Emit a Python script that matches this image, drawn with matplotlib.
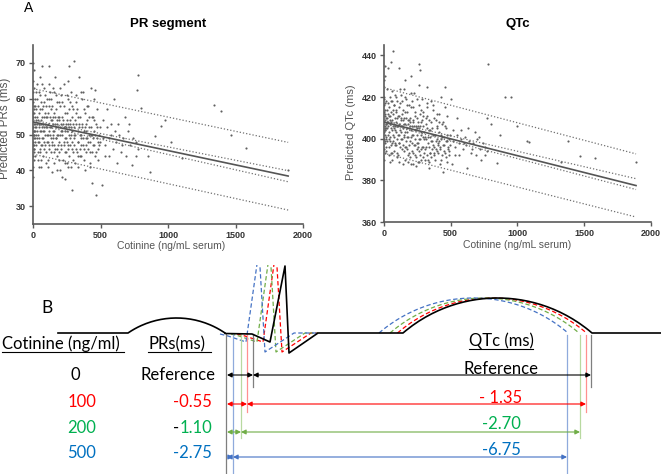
import numpy as np
import matplotlib
matplotlib.use('Agg')
import matplotlib.pyplot as plt
from matplotlib.patches import Rectangle

# ---------------- Panel A data ----------------
pr_points = [
    (2,38),(3,41),(1,44),(4,46),(2,48),(5,50),(1,52),(3,54),(2,56),(4,58),(1,60),(3,62),(2,65),(5,68),
    (8,47),(10,51),(12,55),(7,57),(15,49),(18,53),(9,43),(14,60),(6,63),(11,45),(16,58),(2,70),
    (25,50),(30,55),(35,48),(40,58),(45,52),(50,46),(55,61),(60,54),(65,49),(70,57),(75,44),(80,52),
    (85,63),(90,50),(95,55),(28,60),(38,45),(48,56),(58,51),(68,47),(78,59),(88,53),(98,42),(33,53),
    (43,49),(53,57),(63,64),(73,51),(83,46),(93,58),(22,47),(42,62),(62,43),(82,55),(70,69),(55,66),
    (30,64),(90,61),(45,41),(100,48),
    (105,52),(110,56),(115,47),(120,60),(125,50),(130,54),(135,45),(140,58),(145,51),(150,49),(155,62),
    (160,53),(165,46),(170,57),(175,50),(180,44),(185,55),(190,59),(195,48),(108,43),(118,64),(128,52),
    (138,48),(148,55),(158,42),(168,61),(178,53),(188,47),(198,52),(112,50),(132,57),(152,45),(172,49),
    (192,54),(120,69),(140,39.5),(160,66),(180,40),(200,58),(126,62),
    (205,51),(210,47),(215,55),(220,43),(225,53),(230,58),(235,49),(240,51),(245,45),(250,56),(255,48),
    (260,60),(265,52),(270,44),(275,54),(280,50),(285,62),(290,46),(295,53),(300,49),(208,61),(218,38),
    (228,64),(238,42),(248,52),(258,46),(268,57),(278,41),(288,55),(298,43),(212,50),(232,47),(252,54),
    (272,49),(292,58),(270,69),(300,70.5),(290,34.5),(240,37.5),(262,65),
    (305,50),(312,54),(318,46),(325,57),(330,48),(338,52),(345,44),(350,55),(358,49),(365,60),(372,47),
    (380,51),(388,56),(395,45),(310,42),(322,61),(335,41),(348,50),(360,53),(375,43),(390,49),(400,54),
    (340,66),(385,40),(355,62),(398,58),
    (405,48),(412,52),(420,45),(428,50),(435,55),(442,47),(450,51),(458,44),(465,53),(472,49),(480,46),
    (488,50),(495,52),(410,58),(425,42),(440,36.5),(455,60),(470,33),(485,43),(498,48),(430,63),(445,55),
    (475,57),(460,62.5),
    (510,36),(520,49),(530,47),(545,52),(560,44),(575,50),(590,46),(600,60),(615,48),(630,53),(650,45),
    (670,49),(690,44),(700,51),(720,47),(740,49),(760,48),(775,46),(780,66.5),(770,62.5),(800,57.5),
    (550,57),(620,42),(680,55),(730,41.5),(640,50),(760,44),(710,53),
    (870,39.5),(900,49.5),(950,52.5),(1020,48),(1340,58.2),(1390,56.5),(1470,49.8),(1580,46.3),
    (1890,40),(1100,43.5),(850,44),(980,54),
    (3,47),(6,49),(4,51),(7,53),(2,55),(9,50),(5,46),(12,52),(8,56),(3,59),(13,48),(17,51),(20,54),
    (24,52),(27,49),(32,51),(36,54),(39,50),(44,53),(47,48),(52,51),(56,53),(59,47),(64,52),(67,55),
    (72,49),(76,53),(79,48),(84,51),(87,56),(92,47),(96,52),(102,50),(106,55),(109,48),(114,53),
    (117,51),(122,46),(127,55),(131,49),(134,52),(139,47),(143,54),(147,50),(151,53),(156,47),(159,51),
    (163,55),(167,49),(171,52),(176,46),(179,54),(183,50),(187,52),(191,45),(196,55),(202,50),(207,53),
    (211,46),(216,51),(221,54),(226,48),(231,52),(236,45),(242,53),(247,49),(251,51),(256,53),(261,47),
    (266,50),(271,53),(276,47),(281,52),(286,48),(291,51),(296,45),(302,52),(307,47),(313,50),(319,53),
    (324,45),(331,51),(336,48),(342,53),(347,46),(353,50),(359,47),(366,52),(371,49),(377,46),(383,52),
    (389,47),(394,51),(402,49),(408,46),(415,50),(422,48),(431,52),(438,45),(447,49),(453,47),(462,50),
    (468,45),(478,48),(490,47),(15,44),(25,57),(35,43),(55,45),(75,58),(95,45),(115,58),(135,60),
    (155,56),(175,59),(195,43),(215,59),(235,56),(255,42),(275,59),(295,57),(315,56),(335,55),(355,44),
    (375,57),(395,53),(415,55),(435,50),(455,54),(475,52),(20,62),(60,59),(100,60),(150,63),(200,63),
    (250,61),(320,59),(370,62),(60,41),(110,41),(200,40),(260,41),(330,44),(420,41),(520,54),(560,49),
    (610,51),(660,47),(530,44),(580,53),
]
qtc_points = [
    (2,390),(3,395),(1,400),(4,404),(2,408),(5,412),(1,416),(3,420),(2,425),(4,430),(6,435),(8,398),
    (10,405),(12,410),(7,414),(15,401),(18,407),(9,393),(14,418),(11,402),(16,396),(2,428),
    (25,405),(30,412),(35,400),(40,415),(45,407),(50,397),(55,418),(60,409),(65,402),(70,414),(75,394),
    (80,406),(85,421),(90,403),(95,410),(28,417),(38,396),(48,411),(58,404),(68,399),(78,416),(88,408),
    (98,391),(33,408),(43,401),(53,413),(63,423),(73,405),(83,397),(93,414),(22,399),(42,420),(62,393),
    (82,410),(65,442),(50,437),(30,434),(90,420),(45,389),(100,400),
    (105,406),(110,411),(115,398),(120,417),(125,403),(130,409),(135,395),(140,414),(145,405),(150,401),
    (155,420),(160,407),(165,396),(170,413),(175,403),(180,392),(185,409),(190,416),(195,399),(108,392),
    (118,424),(128,406),(138,400),(148,410),(158,390),(168,419),(178,407),(188,397),(198,406),(112,402),
    (132,412),(152,394),(172,401),(192,408),(115,434),(140,388),(160,428),(180,389),(200,415),(126,421),
    (205,404),(210,398),(215,409),(220,393),(225,406),(230,413),(235,400),(240,404),(245,395),(250,410),
    (255,398),(260,416),(265,405),(270,392),(275,408),(280,402),(285,419),(290,396),(295,406),(300,400),
    (208,418),(218,388),(228,422),(238,391),(248,405),(258,396),(268,412),(278,390),(288,409),(298,393),
    (212,402),(232,397),(252,408),(272,400),(292,413),(265,436),(270,433),(200,430),(240,387),(262,426),
    (305,401),(312,407),(318,396),(325,411),(330,398),(338,404),(345,393),(350,408),(358,399),(365,414),
    (372,396),(380,402),(388,409),(395,394),(310,390),(322,417),(335,389),(348,401),(360,405),(375,392),
    (390,399),(400,406),(320,425),(385,390),(355,418),(398,412),(335,386),
    (405,398),(412,403),(420,395),(428,400),(435,407),(442,397),(450,401),(458,393),(465,405),(472,399),
    (480,396),(488,400),(495,402),(410,412),(425,390),(440,384),(455,415),(470,389),(485,392),(498,397),
    (430,420),(445,408),(475,411),(460,425),(500,419),
    (510,388),(520,399),(530,396),(545,402),(560,392),(575,400),(590,395),(600,398),(615,397),(630,405),
    (650,393),(670,398),(690,392),(700,400),(720,395),(740,398),(760,396),(775,394),(780,436),(770,410),
    (800,407),(550,410),(620,386),(680,403),(730,390),(640,399),(760,392),(710,401),(850,388.5),
    (870,402),(910,420),(950,420),(1000,406),(1070,399),(1090,398.5),(1330,389),(1380,399),(1470,391.5),
    (1580,390.5),(1890,389),
    (3,403),(6,406),(4,409),(7,411),(2,413),(9,404),(5,399),(12,407),(8,417),(3,419),(13,400),(17,405),
    (20,410),(24,408),(27,402),(32,406),(36,411),(39,403),(44,409),(47,399),(52,405),(56,408),(59,398),
    (64,406),(67,412),(72,401),(76,407),(79,398),(84,404),(87,413),(92,397),(96,406),(102,402),(106,411),
    (109,398),(114,407),(117,404),(122,396),(127,410),(131,400),(134,406),(139,397),(143,409),(147,402),
    (151,407),(156,396),(159,403),(163,410),(167,399),(171,405),(176,395),(179,409),(183,401),(187,405),
    (191,393),(196,410),(202,401),(207,406),(211,394),(216,402),(221,408),(226,397),(231,404),(236,392),
    (242,406),(247,398),(251,402),(256,406),(261,394),(266,400),(271,406),(276,395),(281,403),(286,396),
    (291,401),(296,391),(302,403),(307,395),(313,400),(319,405),(324,392),(331,401),(336,396),(342,404),
    (347,393),(353,399),(359,395),(366,402),(371,397),(377,393),(383,402),(389,395),(394,400),(402,397),
    (408,393),(415,399),(422,396),(431,402),(438,392),(447,397),(453,394),(462,399),(468,391),(478,395),
    (490,394),(15,394),(25,414),(35,392),(55,393),(75,416),(95,393),(115,415),(135,418),(155,413),
    (175,416),(195,391),(215,415),(235,411),(255,389),(275,414),(295,411),(315,410),(335,409),(355,391),
    (375,410),(395,405),(415,408),(435,401),(455,406),(475,402),(20,424),(60,418),(100,418),(150,424),
    (200,422),(250,419),(320,415),(370,416),(60,390),(110,389),(200,388),(260,389),(330,390),(420,388),
    (520,404),(560,398),(610,401),(660,395),(530,392),(580,404),
]
fit_x = [0, 1890]
pr_fit = [53.5, 38.4]
pr_ci_hi = [54.0, 39.9]
pr_ci_lo = [53.0, 36.8]
pr_pi_hi = [62.8, 47.8]
pr_pi_lo = [44.5, 28.9]
qtc_fit = [408.0, 377.5]
qtc_ci_hi = [408.8, 380.8]
qtc_ci_lo = [407.2, 375.6]
qtc_pi_hi = [424.5, 392.7]
qtc_pi_lo = [393.0, 362.4]
x_ticks = [0, 500, 1000, 1500, 2000]
pr_ticks = [30, 40, 50, 60, 70]
qtc_ticks = [360, 380, 400, 420, 440]

# ---------------- Panel B text ----------------
cotinine_levels = ['0', '100', '200', '500']
prs_changes = ['Reference', '-0.55', '-1.10', '-2.75']
qtc_changes = ['Reference', '- 1.35', '-2.70', '-6.75']
row_colors = ['#000000', '#FF0000', '#00B050', '#0070C0']
arrow_colors = ['#000000', '#FF0000', '#70AD47', '#4472C4']
vline_colors = ['#7f7f7f', '#FF9090', '#B8D9A0', '#8FAADC']
dash_colors = ['#FF0000', '#70AD47', '#4472C4']

W, H = 661, 474
fig = plt.figure(figsize=(W/100, H/100), dpi=100)

# overlay pixel axes for schematic & labels
ax_s = fig.add_axes([0, 0, 1, 1])
ax_s.set_xlim(0, W); ax_s.set_ylim(H, 0); ax_s.axis('off')

GRAY = '#5a5a5a'

def make_panel(rect, pts, ylim, yticks, fit, cih, cil, pih, pil):
    ax = fig.add_axes(rect)
    ax.patch.set_alpha(0)
    xs = [p[0] for p in pts]; ys = [p[1] for p in pts]
    ax.scatter(xs, ys, s=2.4, color='#606060', linewidths=0, zorder=2)
    ax.plot(fit_x, fit, color='#555555', lw=1.2, zorder=3)
    for yy in (cih, cil, pih, pil):
        ax.plot(fit_x, yy, color='#707070', lw=0.9, ls=(0, (1, 1.6)), zorder=3)
    ax.set_xlim(0, 2000); ax.set_ylim(*ylim)
    ax.set_xticks(x_ticks); ax.set_yticks(yticks)
    for s in ('top', 'right'):
        ax.spines[s].set_visible(False)
    for s in ('left', 'bottom'):
        ax.spines[s].set_color(GRAY); ax.spines[s].set_linewidth(1.2)
    ax.tick_params(direction='out', length=3, width=1, color=GRAY, labelsize=6.5,
                   labelcolor='#333333', pad=2)
    for lab in ax.get_xticklabels() + ax.get_yticklabels():
        lab.set_fontweight('bold'); lab.set_family('Liberation Sans')
    return ax

make_panel([33/W, 1-224/H, 270/W, 179/H], pr_points, (25, 75), pr_ticks,
           pr_fit, pr_ci_hi, pr_ci_lo, pr_pi_hi, pr_pi_lo)
make_panel([384/W, 1-222/H, 266.7/W, 177/H], qtc_points, (360, 445), qtc_ticks,
           qtc_fit, qtc_ci_hi, qtc_ci_lo, qtc_pi_hi, qtc_pi_lo)

AR = dict(family='Liberation Sans')
ax_s.text(24, 12, 'A', fontsize=10, va='baseline', ha='left', **AR)
ax_s.text(168, 24, 'PR segment', fontsize=9.5, fontweight='bold', ha='center', va='center', **AR)
ax_s.text(518, 24, 'QTc', fontsize=9.5, fontweight='bold', ha='center', va='center', **AR)
ax_s.text(171, 246, 'Cotinine (ng/mL serum)', fontsize=7.5, color='#555555', ha='center', va='center', **AR)
ax_s.text(517, 245, 'Cotinine (ng/mL serum)', fontsize=7.5, color='#555555', ha='center', va='center', **AR)
ax_s.text(5, 128, 'Predicted PRs (ms)', fontsize=8.4, color='#555555', rotation=90, ha='center', va='center', **AR)
ax_s.text(351, 132, 'Predicted QTc (ms)', fontsize=8.0, color='#555555', rotation=90, ha='center', va='center', **AR)

# ---------------- Schematic ECG ----------------
def arc(x0, x1, ypeak, ybase, n=60):
    c = x1 - x0; s = ybase - ypeak
    R = (c*c/4 + s*s) / (2*s)
    xc = (x0 + x1) / 2; yc = ypeak + R
    xx = np.linspace(x0, x1, n)
    return xx, yc - np.sqrt(R*R - (xx - xc)**2)

px, py = arc(128, 225, 318, 333)
tx, ty = arc(403, 592, 298, 333)
ecg_x = [58, 128] + list(px) + [225, 252, 270, 285, 289, 318, 403] + list(tx) + [592, 661]
ecg_y = [333, 333] + list(py) + [333.5, 334, 342, 266, 353, 333, 333] + list(ty) + [333, 333]

clip = Rectangle((0, 265), W, H-265, transform=ax_s.transData)
qrs_shift = [7, 13, 24]
t_shift = [5.5, 13, 24]
for c, d, dt in zip(dash_colors, qrs_shift, t_shift):
    ln, = ax_s.plot([244-d, 252-d, 270-d, 283-d, 289-d, 318-d, 318],
                    [334, 336, 342, 250, 352, 333, 333], color=c, lw=0.9, ls=(0, (3.5, 2)))
    ln.set_clip_path(clip)
    ax_s.plot(tx - dt, ty, color=c, lw=0.9, ls=(0, (3.5, 2)))
ax_s.plot(ecg_x, ecg_y, color='black', lw=1.2, zorder=5)

# vertical guide lines (left = onset of P, right = end of T)
left_x = [253, 247, 241, 233]
right_x = [591, 586, 580, 567]
row_y = [375, 404, 432, 457]
v_bottom = [387, 412, 438, 474]
ax_s.plot([226, 226], [334, 474], color='#7f7f7f', lw=0.9)
for i in range(4):
    ax_s.plot([left_x[i]]*2, [334, v_bottom[i]], color=vline_colors[i], lw=0.9)
    ax_s.plot([right_x[i]]*2, [335, v_bottom[i]], color=vline_colors[i], lw=0.9)
    for a, b in ((227, left_x[i]), (left_x[i], right_x[i])):
        ax_s.annotate('', xy=(b, row_y[i]), xytext=(a, row_y[i]),
                      arrowprops=dict(arrowstyle='<|-|>', color=arrow_colors[i], lw=0.8,
                                      mutation_scale=7, shrinkA=0, shrinkB=0))

CF = dict(family='Lato')
FS = 12
ax_s.text(41, 313, 'B', fontsize=12.5, va='baseline', **CF)
ax_s.text(2, 349, 'Cotinine (ng/ml)', fontsize=FS, va='baseline', **CF)
ax_s.plot([2, 124], [352, 352], color='black', lw=0.8)
ax_s.text(148, 349, 'PRs(ms)', fontsize=FS, va='baseline', **CF)
ax_s.plot([148, 211], [352, 352], color='black', lw=0.8)
ax_s.text(501, 346, 'QTc (ms)', fontsize=FS, va='baseline', ha='center', **CF)
ax_s.plot([469, 533], [349, 349], color='black', lw=0.8)

base_y = [380, 407, 433, 458]
qtc_y = [374, 403, 429, 455]
split_txt = None
for i in range(4):
    ax_s.text(82 if i else 75.5, base_y[i], cotinine_levels[i], color=row_colors[i], fontsize=FS,
              ha='center', va='baseline', **CF)
    if i == 0:
        ax_s.text(141, base_y[i], prs_changes[i], fontsize=FS, ha='left', va='baseline', **CF)
    elif i == 2:
        split_txt = ax_s.text(212, base_y[i], prs_changes[i][1:], color=row_colors[i], fontsize=FS,
                              ha='right', va='baseline', **CF)
    else:
        ax_s.text(212, base_y[i], prs_changes[i], color=row_colors[i], fontsize=FS,
                  ha='right', va='baseline', **CF)
    ax_s.text(501, qtc_y[i], qtc_changes[i], color=row_colors[i], fontsize=FS,
              ha='center', va='baseline', **CF)

# black minus sign in front of the green "1.10"
fig.canvas.draw()
bb = split_txt.get_window_extent(fig.canvas.get_renderer())
x_left = ax_s.transData.inverted().transform((bb.x0, 0))[0]
ax_s.text(x_left - 0.5, base_y[2], prs_changes[2][0], color='black', fontsize=FS,
          ha='right', va='baseline', **CF)

fig.savefig('out.png', dpi=100)
